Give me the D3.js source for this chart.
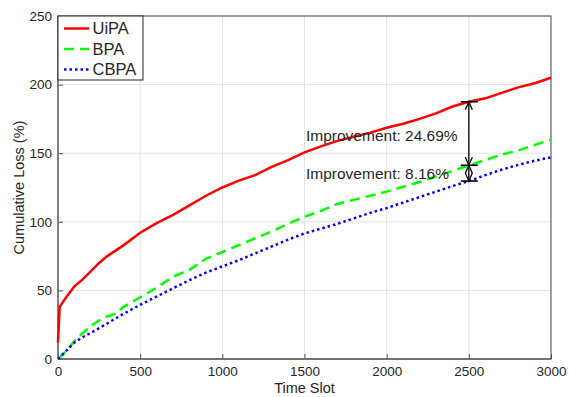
<html>
<head>
<script src="https://d3js.org/d3.v7.min.js"></script>
<style>
  body { margin: 0; background: #fff; }
  text { font-family: "Liberation Sans", Arial, Helvetica, sans-serif; fill: #262626; }
</style>
</head>
<body>
<script>
    // time slots
    var slots = [0, 10, 50, 100, 150, 200, 250, 300, 350, 400, 500, 600, 700, 800, 900, 1000,
                 1100, 1200, 1300, 1400, 1500, 1600, 1700, 1800, 1900, 2000,
                 2100, 2200, 2300, 2400, 2500, 2600, 2700, 2800, 2900, 3000];

    var uipa = [12, 38, 45, 53, 58, 64, 70, 75, 79, 83, 92, 99, 105, 112, 119, 125,
                130, 134, 140, 145, 150.6, 155, 159, 162, 165, 168.5,
                171.5, 175, 179, 184, 187.5, 190, 194, 198, 201, 205];

    var bpa = [0, 1, 6, 13, 19, 24, 28, 31, 33, 38, 45, 52, 60, 65, 73, 78,
               83, 88, 93, 98.5, 103.7, 108, 113, 116, 119, 122,
               125.5, 129, 133, 137, 141.2, 145, 149, 152, 156, 160];

    var cbpa = [0, 1, 6, 12, 16, 19, 22.5, 26, 29.5, 33, 39.5, 45.5, 51.5, 57.5, 63, 67.5,
                72, 77, 82, 87, 91.5, 95, 98.5, 102.5, 106.5, 110,
                114, 118, 122, 126, 129.7, 134, 138, 141.5, 144.5, 147];

    var seriesNames = ["UiPA", "BPA", "CBPA"];
    var seriesColors = ["#ff0000", "#00ff00", "#0000ff"];
    var seriesDash = [null, "10,6", "2.5,3"];

    var xTicks = [0, 500, 1000, 1500, 2000, 2500, 3000];
    var yTicks = [0, 50, 100, 150, 200, 250];

    var annotSlot = 2500;
    var annotVals = [187.5, 141.2, 129.7];
    var annotLabels = ["Improvement: 24.69%", "Improvement: 8.16%"];

    var W = 569, H = 397;
    var L = 58, R = 551, T = 16, B = 359;

    var svg = d3.select("body").append("svg")
        .attr("width", W).attr("height", H);

    var x = d3.scaleLinear().domain([0, 3000]).range([L, R]);
    var y = d3.scaleLinear().domain([0, 250]).range([B, T]);

    // grid
    svg.append("g").selectAll("line").data(xTicks.slice(1, -1)).enter().append("line")
        .attr("x1", d => x(d)).attr("x2", d => x(d))
        .attr("y1", T).attr("y2", B)
        .attr("stroke", "#e3e3e3").attr("stroke-width", 1);
    svg.append("g").selectAll("line").data(yTicks.slice(1, -1)).enter().append("line")
        .attr("y1", d => y(d)).attr("y2", d => y(d))
        .attr("x1", L).attr("x2", R)
        .attr("stroke", "#e3e3e3").attr("stroke-width", 1);

    // axes
    var xAxis = d3.axisBottom(x).tickValues(xTicks).tickFormat(d3.format("d")).tickSize(-5).tickPadding(7);
    var yAxis = d3.axisLeft(y).tickValues(yTicks).tickFormat(d3.format("d")).tickSize(-5).tickPadding(6);

    var gx = svg.append("g").attr("transform", "translate(0," + B + ")").call(xAxis);
    var gy = svg.append("g").attr("transform", "translate(" + L + ",0)").call(yAxis);
    [gx, gy].forEach(function (g) {
        g.select(".domain").remove();
        g.selectAll(".tick line").attr("stroke", "#555");
        g.selectAll("text").style("font-size", "13.5px").attr("fill", "#262626");
    });

    // box
    svg.append("rect")
        .attr("x", L).attr("y", T).attr("width", R - L).attr("height", B - T)
        .attr("fill", "none").attr("stroke", "#444").attr("stroke-width", 1);
    svg.append("line").attr("x1", L).attr("x2", L).attr("y1", T).attr("y2", B)
        .attr("stroke", "#777").attr("stroke-width", 1.6);
    svg.append("line").attr("x1", L).attr("x2", R).attr("y1", B).attr("y2", B)
        .attr("stroke", "#666").attr("stroke-width", 1.4);

    // series
    var line = d3.line().x((d, i) => x(slots[i])).y(d => y(d));
    [uipa, bpa, cbpa].forEach(function (vals, i) {
        svg.append("path")
            .attr("d", line(vals))
            .attr("fill", "none")
            .attr("stroke", seriesColors[i])
            .attr("stroke-width", 2.5)
            .attr("stroke-dasharray", seriesDash[i]);
    });

    // annotation
    var ax = x(annotSlot);
    var ann = svg.append("g").attr("stroke", "#000").attr("fill", "none").attr("stroke-width", 1.3);
    annotVals.forEach(function (v) {
        ann.append("line").attr("x1", ax - 8).attr("x2", ax + 9)
            .attr("y1", y(v)).attr("y2", y(v)).attr("stroke-width", 1.6);
    });
    for (var k = 0; k < annotVals.length - 1; k++) {
        var y1 = y(annotVals[k]), y2 = y(annotVals[k + 1]);
        ann.append("line").attr("x1", ax).attr("x2", ax).attr("y1", y1).attr("y2", y2);
        ann.append("path").attr("d", "M" + (ax - 3.5) + "," + (y1 + 8) + "L" + ax + "," + y1 + "L" + (ax + 3.5) + "," + (y1 + 8));
        ann.append("path").attr("d", "M" + (ax - 3.5) + "," + (y2 - 8) + "L" + ax + "," + y2 + "L" + (ax + 3.5) + "," + (y2 - 8));
    }
    svg.append("text").attr("x", 306).attr("y", 140.5).text(annotLabels[0])
        .style("font-size", "15.5px").attr("fill", "#000");
    svg.append("text").attr("x", 306).attr("y", 178.5).text(annotLabels[1])
        .style("font-size", "15.5px").attr("fill", "#000");

    // axis titles
    svg.append("text").attr("x", x(1500)).attr("y", 392.5)
        .attr("text-anchor", "middle").style("font-size", "14.5px").text("Time Slot");
    svg.append("text")
        .attr("transform", "translate(19," + ((T + B) / 2) + ") rotate(-90)")
        .attr("text-anchor", "middle").attr("dy", "0.35em")
        .style("font-size", "14.5px").text("Cumulative Loss (%)");

    // legend
    var lg = svg.append("g");
    lg.append("rect").attr("x", L).attr("y", T).attr("width", 85).attr("height", 64)
        .attr("fill", "#fff").attr("stroke", "#262626").attr("stroke-width", 1);
    seriesNames.forEach(function (name, i) {
        var ly = 28.5 + i * 20.5;
        lg.append("line").attr("x1", 64).attr("x2", 89).attr("y1", ly).attr("y2", ly)
            .attr("stroke", seriesColors[i]).attr("stroke-width", 2.5)
            .attr("stroke-dasharray", seriesDash[i]);
        lg.append("text").attr("x", 92.5).attr("y", ly).attr("dy", "0.36em")
            .style("font-size", "16.5px").attr("fill", "#000").text(name);
    });
</script>
</body>
</html>
